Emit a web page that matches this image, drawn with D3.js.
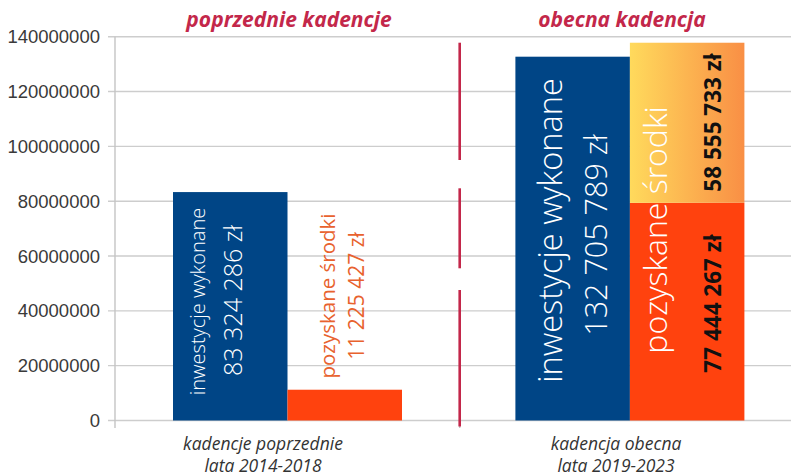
<!DOCTYPE html>
<html>
<head>
<meta charset="utf-8">
<script src="https://cdn.jsdelivr.net/npm/d3@7"></script>
<style>
  html, body { margin: 0; padding: 0; background: #ffffff; }
  svg { display: block; }
</style>
</head>
<body>
<svg id="chart" width="791" height="476"></svg>
<script>
// ---- data ----
const categories = ["poprzednie", "obecna"];
const periodTitles = ["poprzednie kadencje", "obecna kadencja"];
const categoryLines = [["kadencje poprzednie", "lata 2014-2018"], ["kadencja obecna", "lata 2019-2023"]];
const series = ["inwestycje wykonane", "pozyskane środki"];
// previous term: investments, funds obtained
const previousValues = [83324286, 11225427];
// current term: investments; funds obtained split into two stacked parts (as drawn)
const currentInvest = 132705789;
const currentFundsParts = [79400000, 58400000];
const valueLabels = {
  prevInvest: "83 324 286 zł",
  prevFunds: "11 225 427 zł",
  curInvest: "132 705 789 zł",
  curFundsLow: "77 444 267 zł",
  curFundsHigh: "58 555 733 zł"
};
const yTicks = [0, 20000000, 40000000, 60000000, 80000000, 100000000, 120000000, 140000000];

// ---- scales ----
const svg = d3.select("#chart");
const y = d3.scaleLinear().domain([0, 140000000]).range([420.5, 36.7]);
const xGroup = d3.scalePoint().domain(categories).range([287.5, 629.9]);
const xInner = d3.scaleBand().domain(series).range([-114.5, 114.5]);
const xTitle = d3.scalePoint().domain(categories).range([289, 622]);
const xCatLabel = d3.scalePoint().domain(categories).range([263, 616]);

const BLUE = "#004586", ORANGE = "#ff420e", RED = "#c3274a";

// gradient for upper stacked part
const defs = svg.append("defs");
const grad = defs.append("linearGradient").attr("id", "yellowGrad")
  .attr("x1", "0%").attr("x2", "100%").attr("y1", "0%").attr("y2", "0%");
grad.append("stop").attr("offset", "0%").attr("stop-color", "#ffda5c");
grad.append("stop").attr("offset", "100%").attr("stop-color", "#f98f45");

// ---- grid & axis ----
const axisX = 115;
svg.append("g").selectAll("line").data(yTicks).join("line")
  .attr("x1", 108).attr("x2", 791)
  .attr("y1", d => y(d)).attr("y2", d => y(d))
  .attr("stroke", "#cdcdcd").attr("stroke-width", 1.4);
svg.append("line").attr("x1", axisX).attr("x2", axisX)
  .attr("y1", y(140000000)).attr("y2", 428)
  .attr("stroke", "#c4c4c4").attr("stroke-width", 1.4);

svg.append("g").selectAll("text").data(yTicks).join("text")
  .attr("x", 100).attr("y", d => y(d) + 6.5)
  .attr("text-anchor", "end")
  .attr("font-family", "'Liberation Sans', Arial, sans-serif")
  .attr("font-size", 18.5).attr("fill", "#3a3a3a")
  .text(d => d3.format("d")(d));

// ---- bars ----
const bars = svg.append("g");
// previous term
previousValues.forEach((v, i) => {
  const x0 = xGroup(categories[0]) + xInner(series[i]);
  bars.append("rect")
    .attr("x", x0).attr("width", xInner.bandwidth())
    .attr("y", y(v)).attr("height", y(0) - y(v))
    .attr("fill", i === 0 ? BLUE : ORANGE);
});
// current term: investments
{
  const x0 = xGroup(categories[1]) + xInner(series[0]);
  bars.append("rect")
    .attr("x", x0).attr("width", xInner.bandwidth())
    .attr("y", y(currentInvest)).attr("height", y(0) - y(currentInvest))
    .attr("fill", BLUE);
}
// current term: stacked funds
{
  const x0 = xGroup(categories[1]) + xInner(series[1]);
  let acc = 0;
  currentFundsParts.forEach((v, i) => {
    const top = acc + v;
    bars.append("rect")
      .attr("x", x0).attr("width", xInner.bandwidth())
      .attr("y", y(top)).attr("height", y(acc) - y(top))
      .attr("fill", i === 0 ? ORANGE : "url(#yellowGrad)");
    acc = top;
  });
}

// ---- separator dashed line ----
const sepX = (xGroup(categories[0]) + xInner(series[1]) + xInner.bandwidth() + xGroup(categories[1]) + xInner(series[0])) / 2 + 1;
svg.append("line").attr("x1", sepX).attr("x2", sepX)
  .attr("y1", 420.5).attr("y2", 428).attr("stroke", "#c4c4c4").attr("stroke-width", 1.4);
[[42.7, 160], [188.3, 268.3], [290, 426.5]].forEach(s => {
  svg.append("line").attr("x1", sepX).attr("x2", sepX)
    .attr("y1", s[0]).attr("y2", s[1])
    .attr("stroke", RED).attr("stroke-width", 2.6);
});

// ---- titles ----
svg.append("g").selectAll("text").data(categories).join("text")
  .attr("x", d => xTitle(d)).attr("y", 27)
  .attr("text-anchor", "middle")
  .attr("font-family", "'Open Sans', sans-serif")
  .attr("font-weight", "bold").attr("font-style", "italic")
  .attr("font-size", 21).attr("fill", RED)
  .text((d, i) => periodTitles[i]);

// ---- category labels ----
categories.forEach((c, i) => {
  categoryLines[i].forEach((line, j) => {
    svg.append("text")
      .attr("x", xCatLabel(c)).attr("y", 450 + j * 21.7)
      .attr("text-anchor", "middle")
      .attr("font-family", "'Open Sans', sans-serif")
      .attr("font-style", "italic")
      .attr("font-size", 17.5).attr("fill", "#333333")
      .text(line);
  });
});

// ---- rotated bar labels ----
function vtext(x, cy, txt, size, fill, weight) {
  svg.append("text")
    .attr("transform", `translate(${x},${cy}) rotate(-90)`)
    .attr("text-anchor", "middle")
    .attr("font-family", "'Open Sans', sans-serif")
    .attr("font-weight", weight || 300)
    .attr("font-size", size).attr("fill", fill)
    .text(txt);
}
const gPrev = xGroup(categories[0]), gCur = xGroup(categories[1]);
const b0 = s => xInner(s);
// previous blue
vtext(gPrev + b0(series[0]) + 32, 301.5, series[0], 20, "#ffffff");
vtext(gPrev + b0(series[0]) + 69, 300.5, valueLabels.prevInvest, 25, "#ffffff");
// previous orange (outside, above small bar)
vtext(gPrev + b0(series[1]) + 47, 296, series[1], 20.5, "#e8622e", 400);
vtext(gPrev + b0(series[1]) + 76, 296, valueLabels.prevFunds, 21, "#e8622e", 400);
// current blue
vtext(gCur + b0(series[0]) + 47, 230.5, series[0], 32.5, "#ffffff");
vtext(gCur + b0(series[0]) + 92, 235, valueLabels.curInvest, 30.5, "#ffffff");
// current stacked funds
vtext(gCur + b0(series[1]) + 37, 230, series[1], 32, "#ffffff");
vtext(gCur + b0(series[1]) + 91, 122.5, valueLabels.curFundsHigh, 22.5, "#111111", 700);
vtext(gCur + b0(series[1]) + 91, 303.5, valueLabels.curFundsLow, 22.5, "#111111", 700);
</script>
</body>
</html>
